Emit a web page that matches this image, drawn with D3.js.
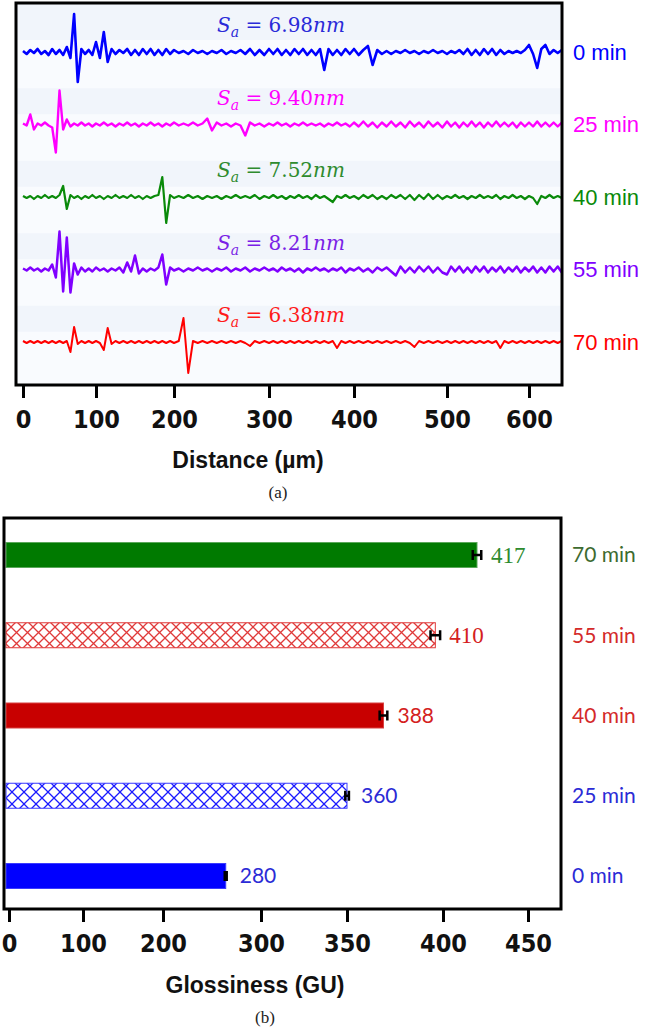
<!DOCTYPE html>
<html><head><meta charset="utf-8">
<script src="https://cdn.jsdelivr.net/npm/d3@7"></script>
<style>body{margin:0;background:#fff} svg{display:block} text{white-space:pre}</style>
</head><body>
<svg id="c" width="645" height="1031"></svg>
<script>
// ---------- Panel (a): surface profiles ----------
const profileTimes = ["0 min", "25 min", "40 min", "55 min", "70 min"];
const saValues = ["6.98", "9.40", "7.52", "8.21", "6.38"];
const distanceStep = 5; // µm between samples
const distanceTicks = [0, 100, 200, 300, 400, 500, 600];

const profile0min = [
  1,-2,2,-1,3,-2,1,-3,3,-2,
  2,-3,5,-6,38,-30,3,-2,2,-3,
  10,-6,20,-10,3,-2,2,-1,3,-3,
  2,-3,3,-2,3,-3,2,-3,3,-2,
  2,-1,1,-2,2,-1,1,-2,1,-1,
  2,-2,1,-1,2,-2,3,-3,2,-3,
  3,-2,3,-3,2,-3,3,-2,3,-3,
  2,-3,3,-18,3,-3,2,-3,3,-2,
  3,-3,2,6,-13,2,-2,1,-2,1,
  -1,2,-1,1,-2,1,-1,2,-1,1,
  -2,1,-1,2,-2,3,-3,2,-3,3,
  -2,3,-3,2,-2,1,-1,1,-1,2,
  7,-2,-16,3,7,-2,2,-1,2];
const profile25min = [
  1,-1,10,-5,1,-1,2,-1,-3,-28,
  34,-5,5,-2,1,-1,2,-1,1,-2,
  1,-1,2,-1,1,-2,1,-1,2,-1,
  1,-2,1,-1,2,-1,1,-2,1,-1,
  2,-1,1,-1,2,-1,1,6,-6,2,
  -1,1,-2,1,-1,-11,2,-1,1,-2,
  1,-1,2,-1,1,-2,1,-1,2,-1,
  1,-1,1,-2,1,-1,2,-1,1,-2,
  2,-2,3,-2,2,-3,2,-2,3,-2,
  2,-3,3,-2,2,-3,3,-2,2,-3,
  3,-2,2,-3,2,-2,3,-2,2,-3,
  2,-2,3,-2,2,-2,2,-3,2,-2,
  2,-2,3,-2,2,-2,2,-2,2];
const profile40min = [
  1,-1,1,-2,1,-1,2,-1,1,-1,
  2,11,-12,2,-1,1,-2,1,-1,2,
  -1,1,-2,1,-1,2,-1,1,-1,2,
  -1,1,-2,1,-1,1,2,20,-26,2,
  -1,1,-1,2,-1,1,-2,1,-1,1,
  -2,1,-1,2,-1,1,-1,2,-2,1,
  -1,2,-1,1,-2,1,-1,2,-1,1,
  -2,2,-1,1,-2,-5,1,-1,2,-1,
  1,-2,2,-1,2,-2,1,-2,2,-1,
  2,-2,2,-3,2,-2,3,-2,2,-2,
  1,-1,2,-1,1,-2,1,-1,2,-1,
  1,-1,2,-2,1,-1,2,-1,1,-2,
  1,-1,-7,1,-1,2,-1,1,-1];
const profile55min = [
  1,-1,2,-1,1,-2,1,-1,5,-8,
  38,-22,32,-23,6,-5,2,-2,1,-2,
  2,-1,1,-2,1,-1,2,-3,7,-2,
  14,-4,1,-2,1,-1,2,15,-15,2,
  -1,1,-2,1,-1,2,-1,1,-2,1,
  -1,2,-2,1,-1,2,-2,1,-1,2,
  -1,1,-2,2,-1,1,-2,1,-3,1,
  -1,2,-1,1,-2,1,-1,2,-3,1,
  -1,2,-2,1,-3,2,-1,2,-2,-6,
  3,-3,2,-3,3,-2,3,-3,2,-3,
  -5,3,-2,3,-3,2,-3,3,-2,3,
  -3,2,-2,3,-3,2,-2,3,-3,2,
  -2,3,-3,2,-3,3,-2,3,-3];
const profile70min = [
  1,-1,1,-1,1,-1,1,-1,1,-1,
  1,-1,1,-10,15,-2,1,-1,1,-1,
  1,-1,-8,14,-2,1,-1,1,-1,1,
  -1,1,-1,1,-1,1,-1,1,-1,1,
  -1,1,24,-31,1,-1,1,-1,1,-1,
  1,-1,1,-1,1,-1,-4,1,-1,1,
  -1,1,-1,1,-1,1,-1,1,-1,1,
  -1,1,-1,1,-1,1,-6,1,-1,1,
  -1,1,-1,1,-1,1,-1,1,-1,1,
  -1,1,-1,-5,1,-1,1,-1,1,-1,
  1,-1,1,-1,1,-1,1,-1,1,-1,
  1,-1,1,-6,1,-1,1,-1,1,-1,
  1,-1,1,-1,1,-1,1,-1,1];
const profiles = [profile0min, profile25min, profile40min, profile55min, profile70min];

// ---------- Panel (b): glossiness ----------
const glossTimes = ["70 min", "55 min", "40 min", "25 min", "0 min"];
const glossLabels = [417, 410, 388, 360, 280];      // printed values
const glossBarEnds = [420, 396, 369, 350, 264];     // bar ends as read on the drawn axis
const glossErrors = [2.5, 2.5, 2, 1, 1];
const glossTicks = [0, 100, 200, 300, 350, 400, 450];

// ---------- styles ----------
const lineColors = ["#0000ff", "#ff00ff", "#0a8a0a", "#8000ff", "#ff0000"];
const lineWidths = [2.6, 2.4, 2.2, 2.5, 2.0];
const saColors = ["#2a2ad8", "#ff00ff", "#2e8b2e", "#7a1fe6", "#ff1a1a"];
const timeColors = ["#0000ff", "#ff00ff", "#0a8a0a", "#8000ff", "#ff0000"];
const barFills = ["#007a00", "url(#hatchRed)", "#c80000", "url(#hatchBlue)", "#0000ff"];
const barStrokes = ["#5aa85a", "#e03a3a", "#d84040", "#3a3aff", "#3a3aff"];
const valueColors = ["#2e8b2e", "#d42020", "#d42020", "#2b2bd6", "#2b2bd6"];
const valueFonts = ["Liberation Serif", "Liberation Serif", "Lato", "Lato", "Lato"];
const valueSizes = [23, 23, 21, 21, 21];
const glossTimeColors = ["#3d6b2f", "#d42a2a", "#d42a2a", "#2b2bd6", "#2b2bd6"];

const svg = d3.select("#c");
const defs = svg.append("defs");
function hatch(id, color, p) {
  const pat = defs.append("pattern").attr("id", id).attr("patternUnits", "userSpaceOnUse")
    .attr("width", p).attr("height", p);
  pat.append("rect").attr("width", p).attr("height", p).attr("fill", "#fff");
  pat.append("path").attr("d", `M0,0L${p},${p}M${p},0L0,${p}M${-p/2},${p/2}L${p/2},${-p/2}`)
    .attr("stroke", color).attr("stroke-width", 1.3).attr("fill", "none");
}
hatch("hatchRed", "#e03a3a", 11);
hatch("hatchBlue", "#1a1aff", 12);

// ===== Panel (a) =====
const A = {l: 16, t: 3, r: 562, b: 385};
const xTop = d3.scaleLinear().domain(distanceTicks).range([23, 96, 174, 269, 354, 447, 529]);
const rowY = d3.scalePoint().domain(profileTimes).range([52, 342]);
const amp = d3.scaleLinear().domain([-10, 10]).range([10, -10]);

const gA = svg.append("g");
gA.append("rect").attr("x", A.l).attr("y", A.t).attr("width", A.r - A.l).attr("height", A.b - A.t)
  .attr("fill", "#f9fbfe");
const step = rowY.step();
profileTimes.forEach((t, i) => {
  const top = i === 0 ? A.t : rowY(t) - step / 2;
  const h = i === 0 ? 37 : 26;
  gA.append("rect").attr("x", A.l).attr("y", top).attr("width", A.r - A.l).attr("height", h)
    .attr("fill", "#f1f5fb");
});

const clipA = defs.append("clipPath").attr("id", "clipA");
clipA.append("rect").attr("x", A.l).attr("y", A.t).attr("width", A.r - A.l).attr("height", A.b - A.t);

profiles.forEach((arr, k) => {
  const t = profileTimes[k];
  const line = d3.line().x((d, i) => xTop(i * distanceStep)).y(d => rowY(t) + amp(d));
  gA.append("path").datum(arr).attr("d", line).attr("fill", "none")
    .attr("stroke", lineColors[k]).attr("stroke-width", lineWidths[k]).attr("stroke-linejoin", "round")
    .attr("clip-path", "url(#clipA)");
  const tx = gA.append("text").attr("x", 281).attr("y", rowY(t) - 20)
    .attr("text-anchor", "middle").attr("fill", saColors[k])
    .attr("font-family", "DejaVu Serif").attr("font-size", 20);
  tx.append("tspan").attr("font-style", "italic").text("S");
  tx.append("tspan").attr("font-style", "italic").attr("font-size", 14).attr("dy", 5).text("a");
  tx.append("tspan").attr("dy", -5).text(" = " + saValues[k]);
  tx.append("tspan").attr("font-style", "italic").text("nm");
  gA.append("text").attr("x", 573).attr("y", rowY(t)).attr("dy", "0.35em")
    .attr("fill", timeColors[k]).attr("font-family", "Liberation Sans").attr("font-size", 22)
    .text(t);
});
gA.append("rect").attr("x", A.l).attr("y", A.t).attr("width", A.r - A.l).attr("height", A.b - A.t)
  .attr("fill", "none").attr("stroke", "#000").attr("stroke-width", 3);

const axA = gA.append("g").attr("transform", `translate(0,${A.b})`)
  .call(d3.axisBottom(xTop).tickValues(distanceTicks).tickSize(13).tickPadding(12).tickFormat(d3.format("d")));
axA.select(".domain").remove();
axA.selectAll(".tick line").attr("stroke", "#000").attr("stroke-width", 3);
axA.selectAll(".tick text").attr("fill", "#111")
  .attr("font-family", "'Liberation Sans Narrow','Arial Narrow','DejaVu Sans Condensed',sans-serif")
  .attr("font-weight", "bold").attr("font-size", 25);
gA.append("text").attr("x", 248).attr("y", 468).attr("text-anchor", "middle")
  .attr("font-family", "Liberation Sans").attr("font-weight", "bold").attr("font-size", 23)
  .attr("fill", "#111").text("Distance (µm)");
gA.append("text").attr("x", 278).attr("y", 498).attr("text-anchor", "middle")
  .attr("font-family", "Liberation Serif").attr("font-size", 17).attr("fill", "#222").text("(a)");

// ===== Panel (b) =====
const B = {l: 4, t: 518, r: 561, b: 909};
const xBot = d3.scaleLinear().domain(glossTicks).range([9, 83, 163, 261, 347, 443, 528]);
const yBot = d3.scalePoint().domain(glossTimes).range([555, 876]);
const barH = 25;
const gB = svg.append("g");
gB.append("rect").attr("x", B.l).attr("y", B.t).attr("width", B.r - B.l).attr("height", B.b - B.t)
  .attr("fill", "#fff");
const x0 = B.l + 2;
glossTimes.forEach((t, k) => {
  const y = yBot(t);
  gB.append("rect").attr("x", x0).attr("y", y - barH / 2)
    .attr("width", xBot(glossBarEnds[k]) - x0).attr("height", barH)
    .attr("fill", barFills[k]).attr("stroke", barStrokes[k]).attr("stroke-width", 1);
  const e0 = xBot(glossBarEnds[k] - glossErrors[k]), e1 = xBot(glossBarEnds[k] + glossErrors[k]);
  gB.append("path").attr("d", `M${e0},${y}H${e1}M${e0},${y - 5}V${y + 5}M${e1},${y - 5}V${y + 5}`)
    .attr("stroke", "#000").attr("stroke-width", 2.5).attr("fill", "none");
  gB.append("text").attr("x", xBot(glossBarEnds[k]) + 14).attr("y", y).attr("dy", "0.35em")
    .attr("fill", valueColors[k]).attr("font-family", valueFonts[k]).attr("font-size", valueSizes[k])
    .text(glossLabels[k]);
  gB.append("text").attr("x", 572).attr("y", y).attr("dy", "0.35em")
    .attr("fill", glossTimeColors[k]).attr("font-family", "Lato").attr("font-size", 21).text(t);
});
gB.append("rect").attr("x", B.l).attr("y", B.t).attr("width", B.r - B.l).attr("height", B.b - B.t)
  .attr("fill", "none").attr("stroke", "#000").attr("stroke-width", 3);
const axB = gB.append("g").attr("transform", `translate(0,${B.b})`)
  .call(d3.axisBottom(xBot).tickValues(glossTicks).tickSize(13).tickPadding(12).tickFormat(d3.format("d")));
axB.select(".domain").remove();
axB.selectAll(".tick line").attr("stroke", "#000").attr("stroke-width", 3);
axB.selectAll(".tick text").attr("fill", "#111")
  .attr("font-family", "'Liberation Sans Narrow','Arial Narrow','DejaVu Sans Condensed',sans-serif")
  .attr("font-weight", "bold").attr("font-size", 25);
gB.append("text").attr("x", 255).attr("y", 993).attr("text-anchor", "middle")
  .attr("font-family", "Liberation Sans").attr("font-weight", "bold").attr("font-size", 23)
  .attr("fill", "#111").text("Glossiness (GU)");
gB.append("text").attr("x", 265).attr("y", 1023).attr("text-anchor", "middle")
  .attr("font-family", "Liberation Serif").attr("font-size", 17).attr("fill", "#222").text("(b)");
</script>
</body></html>
